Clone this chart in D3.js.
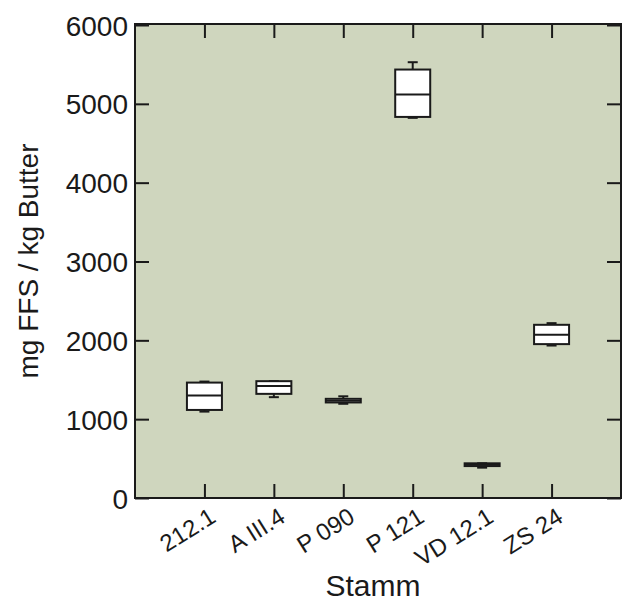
<!DOCTYPE html>
<html>
<head>
<meta charset="utf-8">
<script src="https://cdn.jsdelivr.net/npm/d3@7"></script>
<style>
  body { margin: 0; background: #fff; }
  text { font-family: "Liberation Sans", Arial, sans-serif; fill: #1a1a1a; }
</style>
</head>
<body>
<svg id="chart"></svg>
<script>
// data
var strains = ["212.1", "A III.4", "P 090", "P 121", "VD 12.1", "ZS 24"];
var whiskLow = [1096, 1279, 1195, 4822, 385, 1934];
var q1 = [1117, 1321, 1212, 4834, 405, 1952];
var median = [1299, 1422, 1235, 5117, 423, 2070];
var q3 = [1464, 1482, 1258, 5435, 440, 2197];
var whiskHigh = [1477, 1482, 1290, 5528, 440, 2218];
var yTicks = [0, 1000, 2000, 3000, 4000, 5000, 6000];

var W = 629, H = 603;
var margin = { top: 24, bottom: 105, left: 135, right: 8 };
var width = W - margin.left - margin.right;
var height = H - margin.top - margin.bottom;

var svg = d3.select("#chart").attr("width", W).attr("height", H);
var g = svg.append("g")
  .attr("transform", "translate(" + margin.left + "," + margin.top + ")");

var x = d3.scaleLinear().domain([0, strains.length + 1]).range([0, width]);
var y = d3.scaleLinear().domain([0, 6000]).range([height, 1]);
var xpos = strains.map(function(d, i) { return i + 1; });

// plot background
g.append("rect")
  .attr("width", width).attr("height", height)
  .attr("fill", "rgb(207,214,190)");

// axes with inward ticks
var yLeft = d3.axisLeft(y).tickValues(yTicks).tickSize(-14).tickSizeOuter(0)
  .tickPadding(7).tickFormat(d3.format("d"));
var yRight = d3.axisRight(y).tickValues(yTicks).tickSize(-14).tickSizeOuter(0).tickFormat("");
var xTop = d3.axisTop(x).tickValues(xpos).tickSize(-14).tickSizeOuter(0).tickFormat("");
var xBottom = d3.axisBottom(x).tickValues(xpos).tickSize(-14).tickSizeOuter(0).tickFormat("");

function styleAxis(sel) {
  sel.select(".domain").remove();
  sel.selectAll("line").attr("stroke", "#1a1a1a").attr("stroke-width", 2);
}

g.append("g").call(yLeft).call(styleAxis)
  .selectAll("text").style("font-size", "28px").attr("dy", "0.36em");
g.append("g").attr("transform", "translate(" + width + ",0)").call(yRight).call(styleAxis);
g.append("g").call(xTop).call(styleAxis);
g.append("g").attr("transform", "translate(0," + height + ")").call(xBottom).call(styleAxis);

// rotated category labels
g.append("g").selectAll("text")
  .data(strains)
  .enter().append("text")
  .attr("transform", function(d, i) {
    return "translate(" + (x(i + 1) + 13) + "," + (height + 23) + ") rotate(-32)";
  })
  .attr("text-anchor", "end")
  .style("font-size", "24px")
  .text(function(d) { return d; });

// boxes
var bw = 35, cap = 10;
var boxes = g.append("g").selectAll("g")
  .data(strains)
  .enter().append("g");

boxes.append("line")
  .attr("x1", function(d, i) { return x(i + 1); })
  .attr("x2", function(d, i) { return x(i + 1); })
  .attr("y1", function(d, i) { return y(whiskLow[i]); })
  .attr("y2", function(d, i) { return y(whiskHigh[i]); })
  .attr("stroke", "#1a1a1a").attr("stroke-width", 2);

[whiskLow, whiskHigh].forEach(function(arr) {
  boxes.append("line")
    .attr("x1", function(d, i) { return x(i + 1) - cap / 2; })
    .attr("x2", function(d, i) { return x(i + 1) + cap / 2; })
    .attr("y1", function(d, i) { return y(arr[i]); })
    .attr("y2", function(d, i) { return y(arr[i]); })
    .attr("stroke", "#1a1a1a").attr("stroke-width", 2);
});

boxes.append("rect")
  .attr("x", function(d, i) { return x(i + 1) - bw / 2; })
  .attr("width", bw)
  .attr("y", function(d, i) { return y(q3[i]); })
  .attr("height", function(d, i) { return y(q1[i]) - y(q3[i]); })
  .attr("fill", "#fff")
  .attr("stroke", "#1a1a1a").attr("stroke-width", 2);

boxes.append("line")
  .attr("x1", function(d, i) { return x(i + 1) - bw / 2; })
  .attr("x2", function(d, i) { return x(i + 1) + bw / 2; })
  .attr("y1", function(d, i) { return y(median[i]); })
  .attr("y2", function(d, i) { return y(median[i]); })
  .attr("stroke", "#1a1a1a").attr("stroke-width", 2);

// frame
g.append("rect")
  .attr("width", width).attr("height", height)
  .attr("fill", "none")
  .attr("stroke", "#1a1a1a").attr("stroke-width", 2);

// axis titles
svg.append("text")
  .attr("transform", "translate(38," + (margin.top + height / 2) + ") rotate(-90)")
  .attr("text-anchor", "middle")
  .style("font-size", "28px")
  .text("mg FFS / kg Butter");

svg.append("text")
  .attr("x", margin.left + width / 2 - 5)
  .attr("y", 596)
  .attr("text-anchor", "middle")
  .style("font-size", "30px")
  .text("Stamm");
</script>
</body>
</html>
